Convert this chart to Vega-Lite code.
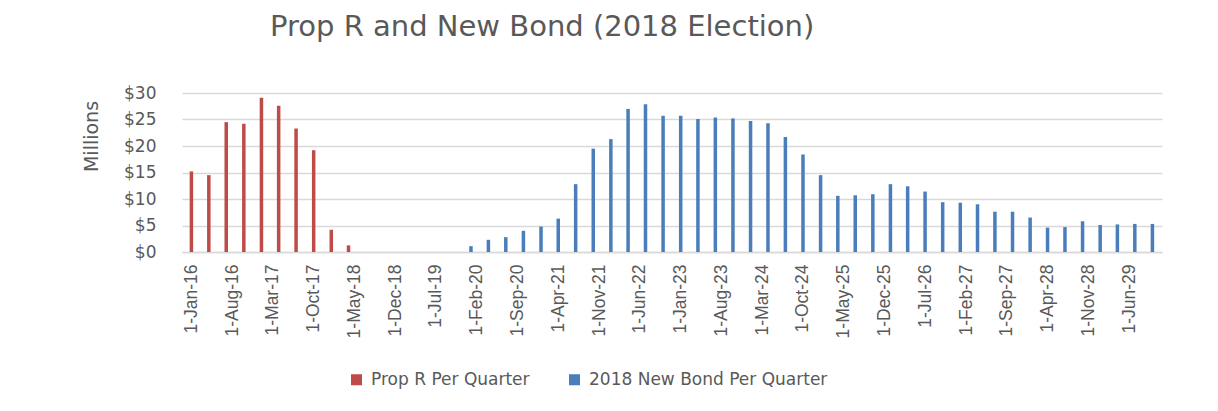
{
  "$schema": "https://vega.github.io/schema/vega-lite/v6.json",
  "autosize": {"type": "none"},
  "width": 980,
  "height": 159,
  "padding": {"left": 182, "top": 93, "right": 56, "bottom": 159},
  "background": "white",
  "title": {
    "text": "Prop R and New Bond (2018 Election)",
    "anchor": "start",
    "frame": "group",
    "dx": 88,
    "offset": 42,
    "font": "DejaVu Sans",
    "fontSize": 29,
    "fontWeight": "normal",
    "color": "#595959"
  },
  "data": {
    "values": [
      {"date": "2016-01-01T00:00:00", "series": "Prop R Per Quarter", "value": 15.2},
      {"date": "2016-04-01T00:00:00", "series": "Prop R Per Quarter", "value": 14.5},
      {"date": "2016-07-01T00:00:00", "series": "Prop R Per Quarter", "value": 24.5},
      {"date": "2016-10-01T00:00:00", "series": "Prop R Per Quarter", "value": 24.2},
      {"date": "2017-01-01T00:00:00", "series": "Prop R Per Quarter", "value": 29.1},
      {"date": "2017-04-01T00:00:00", "series": "Prop R Per Quarter", "value": 27.6},
      {"date": "2017-07-01T00:00:00", "series": "Prop R Per Quarter", "value": 23.3},
      {"date": "2017-10-01T00:00:00", "series": "Prop R Per Quarter", "value": 19.2},
      {"date": "2018-01-01T00:00:00", "series": "Prop R Per Quarter", "value": 4.2},
      {"date": "2018-04-01T00:00:00", "series": "Prop R Per Quarter", "value": 1.25},
      {"date": "2020-01-01T00:00:00", "series": "2018 New Bond Per Quarter", "value": 1.1},
      {"date": "2020-04-01T00:00:00", "series": "2018 New Bond Per Quarter", "value": 2.3},
      {"date": "2020-07-01T00:00:00", "series": "2018 New Bond Per Quarter", "value": 2.8},
      {"date": "2020-10-01T00:00:00", "series": "2018 New Bond Per Quarter", "value": 4.0},
      {"date": "2021-01-01T00:00:00", "series": "2018 New Bond Per Quarter", "value": 4.8},
      {"date": "2021-04-01T00:00:00", "series": "2018 New Bond Per Quarter", "value": 6.3},
      {"date": "2021-07-01T00:00:00", "series": "2018 New Bond Per Quarter", "value": 12.8},
      {"date": "2021-10-01T00:00:00", "series": "2018 New Bond Per Quarter", "value": 19.5},
      {"date": "2022-01-01T00:00:00", "series": "2018 New Bond Per Quarter", "value": 21.3},
      {"date": "2022-04-01T00:00:00", "series": "2018 New Bond Per Quarter", "value": 27.0},
      {"date": "2022-07-01T00:00:00", "series": "2018 New Bond Per Quarter", "value": 27.9},
      {"date": "2022-10-01T00:00:00", "series": "2018 New Bond Per Quarter", "value": 25.7},
      {"date": "2023-01-01T00:00:00", "series": "2018 New Bond Per Quarter", "value": 25.7},
      {"date": "2023-04-01T00:00:00", "series": "2018 New Bond Per Quarter", "value": 25.1},
      {"date": "2023-07-01T00:00:00", "series": "2018 New Bond Per Quarter", "value": 25.4},
      {"date": "2023-10-01T00:00:00", "series": "2018 New Bond Per Quarter", "value": 25.2},
      {"date": "2024-01-01T00:00:00", "series": "2018 New Bond Per Quarter", "value": 24.7},
      {"date": "2024-04-01T00:00:00", "series": "2018 New Bond Per Quarter", "value": 24.3},
      {"date": "2024-07-01T00:00:00", "series": "2018 New Bond Per Quarter", "value": 21.7},
      {"date": "2024-10-01T00:00:00", "series": "2018 New Bond Per Quarter", "value": 18.4},
      {"date": "2025-01-01T00:00:00", "series": "2018 New Bond Per Quarter", "value": 14.5},
      {"date": "2025-04-01T00:00:00", "series": "2018 New Bond Per Quarter", "value": 10.6},
      {"date": "2025-07-01T00:00:00", "series": "2018 New Bond Per Quarter", "value": 10.7},
      {"date": "2025-10-01T00:00:00", "series": "2018 New Bond Per Quarter", "value": 10.9},
      {"date": "2026-01-01T00:00:00", "series": "2018 New Bond Per Quarter", "value": 12.8},
      {"date": "2026-04-01T00:00:00", "series": "2018 New Bond Per Quarter", "value": 12.4},
      {"date": "2026-07-01T00:00:00", "series": "2018 New Bond Per Quarter", "value": 11.4},
      {"date": "2026-10-01T00:00:00", "series": "2018 New Bond Per Quarter", "value": 9.4},
      {"date": "2027-01-01T00:00:00", "series": "2018 New Bond Per Quarter", "value": 9.3},
      {"date": "2027-04-01T00:00:00", "series": "2018 New Bond Per Quarter", "value": 9.0},
      {"date": "2027-07-01T00:00:00", "series": "2018 New Bond Per Quarter", "value": 7.6},
      {"date": "2027-10-01T00:00:00", "series": "2018 New Bond Per Quarter", "value": 7.6},
      {"date": "2028-01-01T00:00:00", "series": "2018 New Bond Per Quarter", "value": 6.5},
      {"date": "2028-04-01T00:00:00", "series": "2018 New Bond Per Quarter", "value": 4.6},
      {"date": "2028-07-01T00:00:00", "series": "2018 New Bond Per Quarter", "value": 4.7},
      {"date": "2028-10-01T00:00:00", "series": "2018 New Bond Per Quarter", "value": 5.8},
      {"date": "2029-01-01T00:00:00", "series": "2018 New Bond Per Quarter", "value": 5.1},
      {"date": "2029-04-01T00:00:00", "series": "2018 New Bond Per Quarter", "value": 5.2},
      {"date": "2029-07-01T00:00:00", "series": "2018 New Bond Per Quarter", "value": 5.3},
      {"date": "2029-10-01T00:00:00", "series": "2018 New Bond Per Quarter", "value": 5.3}
    ]
  },
  "mark": {"type": "bar", "size": 3.5},
  "encoding": {
    "x": {
      "field": "date",
      "type": "temporal",
      "scale": {
        "domain": [
          {"year": 2015, "month": 12, "date": 9},
          {"year": 2029, "month": 10, "date": 25}
        ]
      },
      "axis": {
        "title": null,
        "values": [
          {"year": 2016, "month": 1, "date": 1},
          {"year": 2016, "month": 8, "date": 1},
          {"year": 2017, "month": 3, "date": 1},
          {"year": 2017, "month": 10, "date": 1},
          {"year": 2018, "month": 5, "date": 1},
          {"year": 2018, "month": 12, "date": 1},
          {"year": 2019, "month": 7, "date": 1},
          {"year": 2020, "month": 2, "date": 1},
          {"year": 2020, "month": 9, "date": 1},
          {"year": 2021, "month": 4, "date": 1},
          {"year": 2021, "month": 11, "date": 1},
          {"year": 2022, "month": 6, "date": 1},
          {"year": 2023, "month": 1, "date": 1},
          {"year": 2023, "month": 8, "date": 1},
          {"year": 2024, "month": 3, "date": 1},
          {"year": 2024, "month": 10, "date": 1},
          {"year": 2025, "month": 5, "date": 1},
          {"year": 2025, "month": 12, "date": 1},
          {"year": 2026, "month": 7, "date": 1},
          {"year": 2027, "month": 2, "date": 1},
          {"year": 2027, "month": 9, "date": 1},
          {"year": 2028, "month": 4, "date": 1},
          {"year": 2028, "month": 11, "date": 1},
          {"year": 2029, "month": 6, "date": 1}
        ],
        "format": "%-d-%b-%y",
        "labelAngle": 270,
        "labelAlign": "right",
        "labelBaseline": "middle",
        "labelPadding": 12,
        "labelFont": "Liberation Sans",
        "labelFontSize": 17.5,
        "labelColor": "#595959",
        "labelOverlap": false,
        "labelFlush": false,
        "ticks": false,
        "grid": false,
        "domain": true,
        "domainColor": "#d9d9d9",
        "domainWidth": 1.5
      }
    },
    "y": {
      "field": "value",
      "type": "quantitative",
      "scale": {"domain": [0, 30], "nice": false},
      "axis": {
        "title": "Millions",
        "values": [0, 5, 10, 15, 20, 25, 30],
        "labelExpr": "'$' + datum.value",
        "labelFont": "DejaVu Sans",
        "labelFontSize": 17,
        "labelColor": "#595959",
        "labelPadding": 26,
        "ticks": false,
        "domain": false,
        "grid": true,
        "gridColor": "#d9d9d9",
        "gridWidth": 1.5,
        "titleFont": "DejaVu Sans",
        "titleFontSize": 19,
        "titleFontWeight": "normal",
        "titleColor": "#595959",
        "titleAngle": 270,
        "titleAlign": "center",
        "titleBaseline": "middle",
        "titleX": -91,
        "titleY": 43
      }
    },
    "color": {
      "field": "series",
      "type": "nominal",
      "scale": {
        "domain": ["Prop R Per Quarter", "2018 New Bond Per Quarter"],
        "range": ["#be4b48", "#4a7ebb"]
      },
      "legend": {
        "title": null,
        "orient": "none",
        "direction": "horizontal",
        "legendX": 166,
        "legendY": 278,
        "symbolType": "square",
        "symbolSize": 121,
        "symbolStrokeWidth": 0,
        "labelFont": "DejaVu Sans",
        "labelFontSize": 17,
        "labelColor": "#595959",
        "labelOffset": 6,
        "labelLimit": 400,
        "columnPadding": 36
      }
    }
  },
  "config": {
    "view": {"stroke": null}
  }
}
